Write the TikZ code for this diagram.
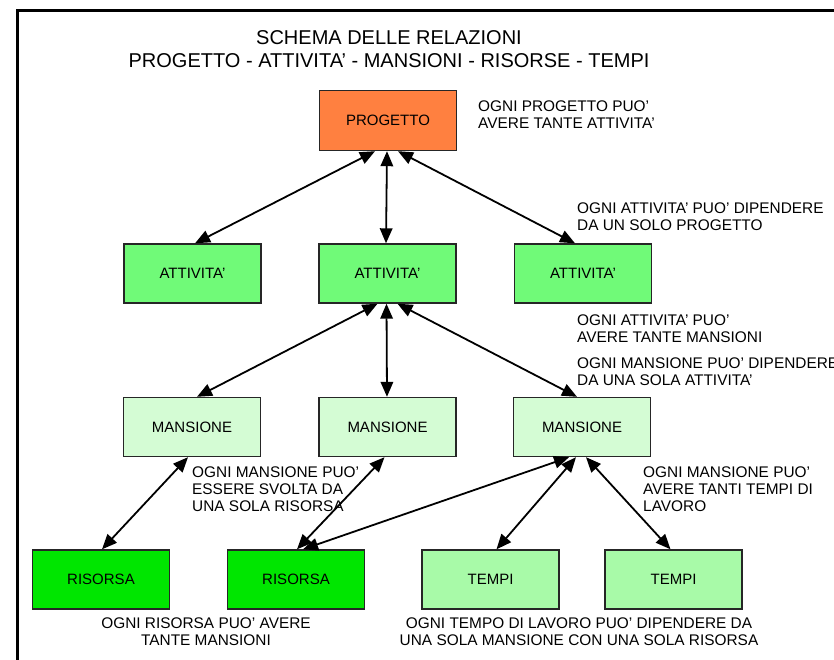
\documentclass[tikz,border=0pt]{standalone}
\usepackage{fontspec}
\setmainfont{Liberation Sans}
\usetikzlibrary{arrows.meta}
\definecolor{progetto}{RGB}{255,128,64}
\definecolor{attivita}{RGB}{112,250,120}
\definecolor{mansione}{RGB}{212,252,212}
\definecolor{risorsa}{RGB}{0,230,0}
\definecolor{tempi}{RGB}{168,250,168}

\begin{document}
\begin{tikzpicture}[x=1pt, y=-1pt,
  box/.style={draw=black!85, line width=1.4pt, minimum width=137pt, minimum height=59pt,
    inner sep=0pt, font=\fontsize{15}{17}\selectfont},
  note/.style={inner sep=0pt, align=left, anchor=north west, font=\fontsize{15.4}{17}\selectfont},
  link/.style={line width=1.8pt, {Triangle[length=15pt,width=12.5pt]}-{Triangle[length=15pt,width=12.5pt]}}]
  \useasboundingbox (0,0) rectangle (834,659);
  \draw[line width=3pt] (17.5,700) |- (870,10.5);

  \node[align=center, anchor=north, inner sep=0pt, font=\fontsize{20}{23}\selectfont] (title) at (389,30)
    {SCHEMA DELLE RELAZIONI\\PROGETTO - ATTIVITA’ - MANSIONI - RISORSE - TEMPI};

  \node[box, fill=progetto, minimum height=60pt] (prog) at (388,120.5) {PROGETTO};

  \node[box, fill=attivita] (att1) at (192.5,273.5) {ATTIVITA’};
  \node[box, fill=attivita] (att2) at (387.5,273.5) {ATTIVITA’};
  \node[box, fill=attivita] (att3) at (583,273.5) {ATTIVITA’};

  \node[box, fill=mansione] (mans1) at (192,427) {MANSIONE};
  \node[box, fill=mansione] (mans2) at (387.5,427) {MANSIONE};
  \node[box, fill=mansione] (mans3) at (582,427) {MANSIONE};

  \node[box, fill=risorsa] (ris1) at (101,579.5) {RISORSA};
  \node[box, fill=risorsa] (ris2) at (296,579.5) {RISORSA};
  \node[box, fill=tempi] (temp1) at (490.5,579.5) {TEMPI};
  \node[box, fill=tempi] (temp2) at (673.5,579.5) {TEMPI};

  \draw[link] ([xshift=-13pt]prog.south) -- ([xshift=2.5pt]att1.north);
  \draw[link] ([xshift=-1pt]prog.south) -- ([xshift=-1.5pt]att2.north);
  \draw[link] ([xshift=10pt]prog.south) -- ([xshift=-8pt]att3.north);

  \draw[link] ([xshift=-10pt]att2.south) -- ([xshift=5pt]mans1.north);
  \draw[link] ([xshift=-1pt]att2.south) -- ([xshift=-0.5pt]mans2.north);
  \draw[link] ([xshift=10pt]att2.south) -- ([xshift=-5pt]mans3.north);

  \draw[link] ([xshift=-4pt]mans1.south) -- ([xshift=1pt]ris1.north);
  \draw[link] ([xshift=-3pt]mans2.south) -- ([xshift=1pt]ris2.north);
  \draw[link] ([xshift=-13pt]mans3.south) -- ([xshift=7pt]ris2.north);
  \draw[link] ([xshift=-6pt]mans3.south) -- ([xshift=6pt]temp1.north);
  \draw[link] ([xshift=4pt]mans3.south) -- ([xshift=-3pt]temp2.north);

  \node[note] (n-prog) at (478,101) {OGNI PROGETTO PUO’\\AVERE TANTE ATTIVITA’};
  \node[note] (n-att) at (577,203) {OGNI ATTIVITA’ PUO’ DIPENDERE\\DA UN SOLO PROGETTO};
  \node[note] (n-attmans) at (577,315) {OGNI ATTIVITA’ PUO’\\AVERE TANTE MANSIONI};
  \node[note] (n-mansatt) at (577,358) {OGNI MANSIONE PUO’ DIPENDERE\\DA UNA SOLA ATTIVITA’};
  \node[note] (n-mansris) at (192,467) {OGNI MANSIONE PUO’\\ESSERE SVOLTA DA\\UNA SOLA RISORSA};
  \node[note] (n-manstemp) at (643,467) {OGNI MANSIONE PUO’\\AVERE TANTI TEMPI DI\\LAVORO};
  \node[note, align=center, anchor=north] (n-ris) at (206,618) {OGNI RISORSA PUO’ AVERE\\TANTE MANSIONI};
  \node[note, align=center, anchor=north] (n-temp) at (579,618)
    {OGNI TEMPO DI LAVORO PUO’ DIPENDERE DA\\UNA SOLA MANSIONE CON UNA SOLA RISORSA};
\end{tikzpicture}
\end{document}
